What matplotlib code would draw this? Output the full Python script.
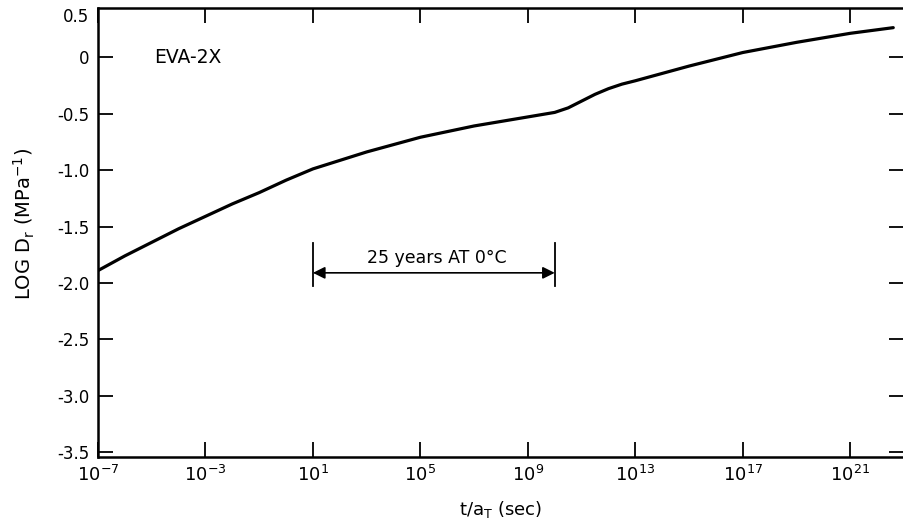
import numpy as np
import matplotlib
matplotlib.use("Agg")
import matplotlib.pyplot as plt

# Data (log10 of t/aT, LOG Dr)
log_t = [-7, -6, -5, -4, -3, -2, -1, 0, 1, 3, 5, 7, 9, 10, 10.5, 11, 11.5, 12, 12.5, 13, 15, 17, 19, 21, 22.6]
log_dr = [-1.89, -1.76, -1.64, -1.52, -1.41, -1.30, -1.20, -1.09, -0.99, -0.84, -0.71, -0.61, -0.53, -0.49, -0.45,
          -0.39, -0.33, -0.28, -0.24, -0.21, -0.08, 0.04, 0.13, 0.21, 0.26]

xtick_exp = [-7, -3, 1, 5, 9, 13, 17, 21]
ytick_vals = [0, -0.5, -1.0, -1.5, -2.0, -2.5, -3.0, -3.5]
ytick_labels = ["0", "-0.5", "-1.0", "-1.5", "-2.0", "-2.5", "-3.0", "-3.5"]
top_label = "0.5"

span_exp = [1, 10]          # 25 years at 0 C span
span_y = -1.91
span_text = "25 years AT 0°C"
sample_label = "EVA-2X"

plt.rcParams['font.family'] = ['DejaVu Sans']

fig = plt.figure(figsize=(9.04, 5.28), dpi=100)
ax = fig.add_axes([98/904, (528-457)/528, 1 - 98/904, (457-8)/528])

x = [10.0**e for e in log_t]
ax.plot(x, log_dr, color='black', lw=2.3, solid_capstyle='round')

ax.set_xscale('log')
ax.set_xlim(1e-7, 1e23)
ax.set_ylim(-3.54, 0.434)

ax.set_xticks([10.0**e for e in xtick_exp])
ax.set_xticklabels([r"$\mathregular{10^{%d}}$" % e for e in xtick_exp], fontsize=13)
ax.xaxis.set_minor_locator(matplotlib.ticker.NullLocator())
ax.set_yticks(ytick_vals)
ax.set_yticklabels(ytick_labels, fontsize=12)

ax.tick_params(axis='both', which='major', direction='in', length=11, width=1.3,
               top=True, right=True, pad=6)
for s in ax.spines.values():
    s.set_linewidth(1.8)

# top y label sits at the upper corner in the original
ax.text(-0.011, 0.35, top_label, transform=ax.get_yaxis_transform(),
        fontsize=12, ha='right', va='center', clip_on=False)

ax.set_xlabel(r"t/a$_\mathregular{T}$ (sec)", fontsize=13, labelpad=10)
ax.set_ylabel(r"LOG D$_\mathregular{r}$ (MPa$^\mathregular{-1}$)", fontsize=14)
ax.yaxis.set_label_coords(-0.076, 0.52)

ax.text(10.0**-4.9, 0.0, sample_label, fontsize=13.5, va='center', ha='left')

x0, x1 = 10.0**span_exp[0], 10.0**span_exp[1]
ax.annotate('', xy=(x0, span_y), xytext=(x1, span_y),
            arrowprops=dict(arrowstyle='<|-|>', color='black', lw=1.2,
                            mutation_scale=18, shrinkA=0, shrinkB=0))
ax.plot([x0, x0], [span_y + 0.26, span_y - 0.12], color='black', lw=1.3)
ax.plot([x1, x1], [span_y + 0.26, span_y - 0.12], color='black', lw=1.3)
ax.text(10.0**5.6, span_y + 0.13, span_text, fontsize=12.5, ha='center', va='center')

fig.savefig("out.png", dpi=100)
